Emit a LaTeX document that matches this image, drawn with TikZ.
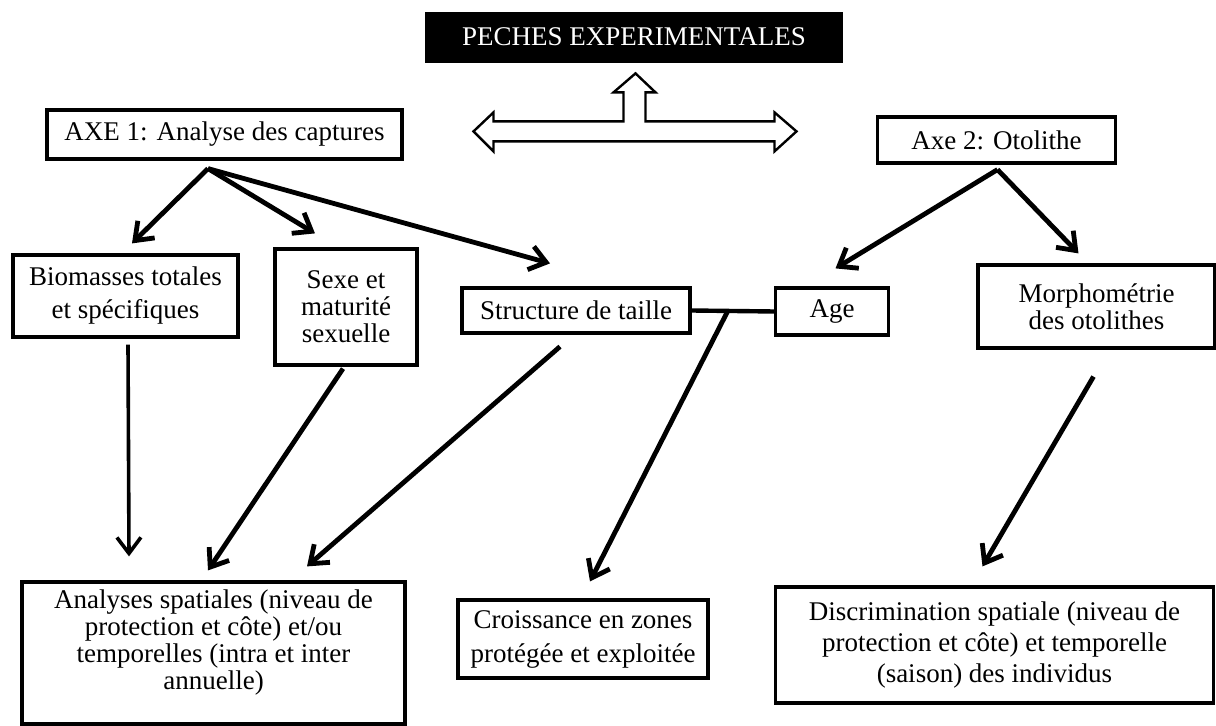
\documentclass[tikz,border=0pt]{standalone}
\usepackage{fontspec}
\setmainfont{Liberation Serif}
\usetikzlibrary{arrows.meta,calc}

\begin{document}
\begin{tikzpicture}[x=0.5pt,y=-0.5pt,
    font=\fontsize{13.5}{13.5}\selectfont,
    box/.style={draw, line width=1.6pt, align=center, inner sep=2pt},
    arr/.style={-{Straight Barb[length=8pt,width=12pt]}, line width=2.4pt},
    link/.style={line width=2.2pt},
    blockarrow/.style={draw, line width=1.2pt, line join=miter}]
\useasboundingbox (0,0) rectangle (1216,726);

	\node (title) at (634,37) [draw, fill=black, text=white,
    minimum width=208.5pt, minimum height=25pt, inner sep=0pt]
    {PECHES EXPERIMENTALES};

% the two axes
\path (title)+(-409.5,97.5) node (axe1) [box,
    minimum width=177.5pt, minimum height=24.5pt]
    {AXE 1: Analyse des captures};
\path (title)+(362.5,103) node (axe2) [box,
    minimum width=119pt, minimum height=23pt]
    {Axe 2: Otolithe};

% block arrow under the title
\draw[blockarrow] ([shift={(1.5,11)}]title.south) -- ++(20,19) -- ++(-10,0)
    -- ++(0,29) -- ++(129,0) -- ++(0,-9) -- ++(22,19) -- ++(-22,20)
    -- ++(0,-10) -- ++(-281,0) -- ++(0,10) -- ++(-20,-20) -- ++(20,-19)
    -- ++(0,9) -- ++(130,0) -- ++(0,-29) -- ++(-10,0) -- cycle;

% second row
\path (axe1)+(-99,161.5) node (biom) [box, font=\fontsize{13.5}{16.5}\selectfont,
    minimum width=112.5pt, minimum height=41pt]
    {Biomasses totales\\et spécifiques};
\path (axe1)+(121.5,172.5) node (sexe) [box,
    minimum width=71pt, minimum height=58pt]
    {Sexe et\\maturité\\sexuelle};
\path (axe1)+(351.5,176) node (taille) [box,
    minimum width=114pt, minimum height=22.5pt]
    {Structure de taille};
\path (axe2)+(-164.5,171.5) node (age) [box,
    minimum width=56.5pt, minimum height=23.5pt]
    {Age};
\path (axe2)+(100,166.5) node (morpho) [box,
    minimum width=118.5pt, minimum height=41.5pt]
    {Morphométrie\\des otolithes};

\draw[link] (taille.east) -- (age.west);
\coordinate (lien) at ($(taille.east)!0.44!(age.west)$);

% results
\path (biom)+(88,357) node (analyses) [box, text depth=13pt,
    minimum width=191.5pt, minimum height=71pt]
    {Analyses spatiales (niveau de\\protection et côte) et/ou\\temporelles (intra et inter\\annuelle)};
\path (taille)+(7,328.5) node (croiss) [box, font=\fontsize{13.5}{17}\selectfont,
    minimum width=125pt, minimum height=39pt]
    {Croissance en zones\\protégée et exploitée};
\path (morpho)+(-102,338.5) node (discrim) [box, font=\fontsize{13.5}{15.5}\selectfont,
    minimum width=219pt, minimum height=58pt]
    {Discrimination spatiale (niveau de\\protection et côte) et temporelle\\(saison) des individus};

\path[arr] (axe1.south)+(-16.5,8) edge ([shift={(6.5,-10)}]biom.north);
\path[arr] (axe1.south)+(-16.5,8) edge ([shift={(-31,-14)}]sexe.north);
\path[arr] (axe1.south)+(-16.5,8) edge ([shift={(-26,-23)}]taille.north);
\path[arr] (axe2.south)+(1,5) edge ([shift={(3.5,-18)}]age.north);
\path[arr] (axe2.south)+(1,5) edge ([shift={(-18,-10)}]morpho.north);

\path[arr, line width=1.8pt] (biom.south)+(2.5,6) edge ([shift={(-84.5,-24)}]analyses.north);
\path[arr] (sexe.south)+(-3,2) edge ([shift={(-5.5,-10)}]analyses.north);
\path[arr] (taille.south)+(-16,12) edge ([shift={(93.5,-14)}]analyses.north);
\path[arr] (lien) edge ([shift={(7,-17)}]croiss.north);
\path[arr] (morpho.south)+(-3,27) edge ([shift={(-12,-19)}]discrim.north);

	\end{tikzpicture}
\end{document}
